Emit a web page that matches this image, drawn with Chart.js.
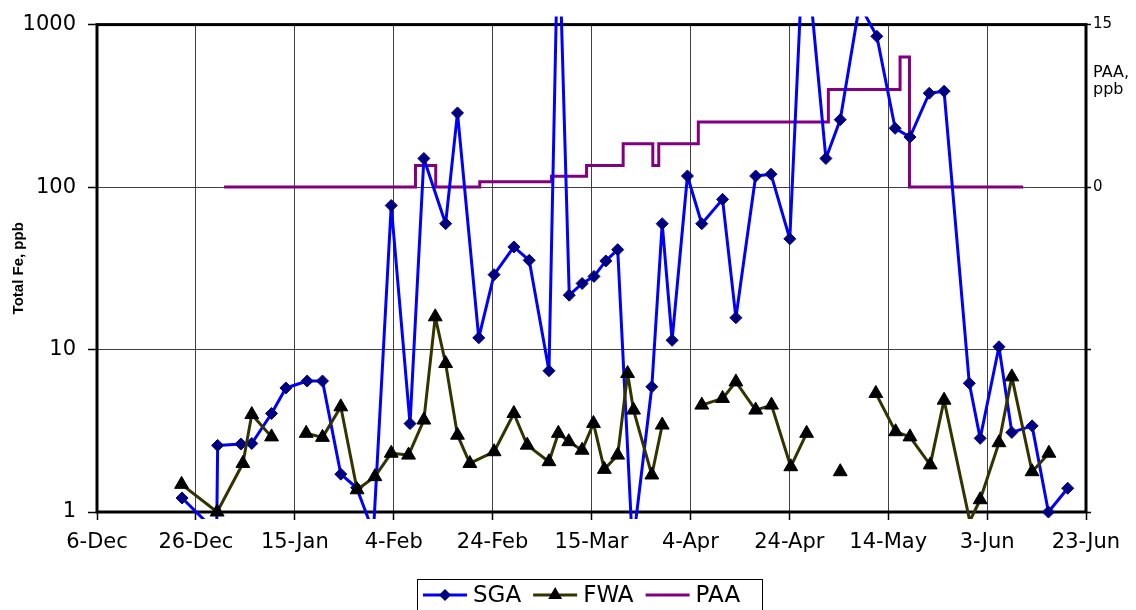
<!DOCTYPE html>
<html><head><meta charset="utf-8">
<script src="https://cdn.jsdelivr.net/npm/chart.js@4/dist/chart.umd.min.js"></script>
<style>html,body{margin:0;padding:0;background:#fff;}#wrap{width:1136px;height:610px;}</style>
</head><body><div id="wrap"><canvas id="c" width="1136" height="610"></canvas></div>
<script>
// x positions are days counted from 6-Dec
const xTickLabels = ['6-Dec','26-Dec','15-Jan','4-Feb','24-Feb','15-Mar','4-Apr','24-Apr','14-May','3-Jun','23-Jun'];

const sgaDays   = [17.2, 24.2, 24.4, 29.1, 31.3, 35.3, 38.2, 42.5, 45.6, 49.3, 52.5, 55.9, 59.5, 63.3, 66.1, 70.5, 72.9, 77.2, 80.3, 84.3, 87.4, 91.4, 93.3, 95.5, 98.1, 100.5, 102.9, 105.3, 108.3, 112.2, 114.3, 116.3, 119.4, 122.3, 126.5, 129.2, 133.2, 136.3, 140.1, 143.0, 147.4, 150.3, 154.2, 157.7, 161.4, 164.4, 168.3, 171.3, 176.4, 178.6, 182.4, 185.0, 189.1, 192.4, 196.3];
const sgaValues = [1.22, 0.75, 2.57, 2.62, 2.64, 4.04, 5.8, 6.4, 6.4, 1.71, 1.41, 0.75, 77, 3.5, 150, 59.5, 286, 11.8, 28.9, 42.8, 35.4, 7.4, 5000, 21.6, 25.5, 28.2, 35.1, 41.2, 0.6, 5.9, 59.5, 11.4, 117, 59.5, 84, 15.7, 117, 120, 48, 4000, 150, 260, 1330, 847, 230, 203, 378, 389, 6.2, 2.84, 10.4, 3.09, 3.39, 1.0, 1.40];

const fwaDays   = [17.1, 24.3, 29.5, 31.3, 35.3, 38.8, 42.3, 45.6, 49.3, 52.6, 56.2, 59.5, 63.0, 66.1, 68.4, 70.5, 72.9, 75.4, 80.3, 84.3, 87.0, 91.4, 93.3, 95.4, 98.1, 100.4, 102.6, 105.3, 107.3, 108.5, 112.2, 114.3, 118.0, 122.3, 126.5, 129.2, 133.2, 136.4, 140.3, 143.5, 147.0, 150.3, 154.0, 157.5, 161.5, 164.4, 168.5, 171.3, 176.5, 178.6, 182.4, 185.0, 189.1, 192.5];
const fwaValues = [1.48, 1.0, 1.99, 3.98, 2.9, null, 3.05, 2.88, 4.44, 1.37, 1.65, 2.3, 2.24, 3.68, 15.9, 8.2, 2.97, 1.99, 2.35, 4.04, 2.58, 2.04, 3.05, 2.71, 2.4, 3.51, 1.83, 2.24, 7.12, 4.24, 1.69, 3.43, null, 4.55, 5.0, 6.32, 4.24, 4.55, 1.9, 3.05, null, 1.77, null, 5.37, 3.12, 2.9, 1.95, 4.88, 0.88, 1.19, 2.67, 6.79, 1.77, 2.3];

const paaDays   = [25.7, 64.4, 68.5, 77.4, 91.9, 99.0, 106.4, 112.4, 113.6, 121.6, 147.9, 162.4, 164.3, 187.3];
const paaValues = [0, 2, 0, 0.5, 1, 2, 4, 2, 4, 6, 9, 12, 0, 0];

const leftTicks  = [1, 10, 100, 1000];
const rightTicks = [-30, -15, 0, 15];

const toXY = (xs, ys) => xs.map((x, i) => ({x: x, y: ys[i]}));
const FONT = 'DejaVu Sans';

const framePlugin = {
  id: 'frame',
  beforeDatasetsDraw(chart) {
    const {ctx, chartArea: a} = chart;
    ctx.save();
    ctx.strokeStyle = '#000';
    ctx.lineWidth = 3;
    ctx.strokeRect(a.left, a.top, a.right - a.left, a.bottom - a.top);
    ctx.restore();
  }
};

const extrasPlugin = {
  id: 'extras',
  afterDraw(chart) {
    const ctx = chart.ctx;
    ctx.save();
    // right axis caption
    ctx.fillStyle = '#000';
    ctx.font = '16px "' + FONT + '"';
    ctx.textAlign = 'left';
    ctx.textBaseline = 'alphabetic';
    ctx.fillText('PAA,', 1093, 77);
    ctx.fillText('ppb', 1093, 94);
    // legend
    ctx.strokeStyle = '#000';
    ctx.lineWidth = 1;
    ctx.strokeRect(417.5, 579.5, 345, 40);
    const cy = 595;
    const items = chart.data.datasets.map(d => d).sort((p, q) => p.legendOrder - q.legendOrder);
    let x = 423;
    ctx.font = '23px "' + FONT + '"';
    ctx.textBaseline = 'middle';
    items.forEach(ds => {
      ctx.strokeStyle = ds.borderColor;
      ctx.lineWidth = 3;
      ctx.beginPath(); ctx.moveTo(x, cy); ctx.lineTo(x + 44, cy); ctx.stroke();
      const mx = x + 22;
      ctx.fillStyle = ds.pointBackgroundColor || ds.borderColor;
      if (ds.pointStyle === 'rectRot') {
        const r = 6;
        ctx.beginPath(); ctx.moveTo(mx, cy - r); ctx.lineTo(mx + r, cy); ctx.lineTo(mx, cy + r); ctx.lineTo(mx - r, cy); ctx.closePath(); ctx.fill();
      } else if (ds.pointStyle === 'triangle') {
        const r = 8;
        ctx.beginPath(); ctx.moveTo(mx, cy - r); ctx.lineTo(mx + r * 0.866, cy + r / 2); ctx.lineTo(mx - r * 0.866, cy + r / 2); ctx.closePath(); ctx.fill();
      }
      ctx.fillStyle = '#000';
      ctx.fillText(ds.label, x + 50, cy + 1);
      x += 50 + ctx.measureText(ds.label).width + 12;
    });
    ctx.restore();
  }
};

new Chart(document.getElementById('c'), {
  type: 'line',
  data: {
    datasets: [
      {
        label: 'FWA', legendOrder: 2,
        data: toXY(fwaDays, fwaValues),
        borderColor: '#333300', borderWidth: 3, borderJoinStyle: 'round',
        pointStyle: 'triangle', pointRadius: 8, pointHoverRadius: 8,
        pointBackgroundColor: '#000000', pointBorderColor: '#000000', pointBorderWidth: 1,
        spanGaps: false, tension: 0, yAxisID: 'y',
        clip: {left: 4, right: 4, top: 8, bottom: 7}
      },
      {
        label: 'SGA', legendOrder: 1,
        data: toXY(sgaDays, sgaValues),
        borderColor: '#0000FF', borderWidth: 3, borderJoinStyle: 'round',
        pointStyle: 'rectRot', pointRadius: 6, pointHoverRadius: 6,
        pointBackgroundColor: '#000080', pointBorderColor: '#000080', pointBorderWidth: 1,
        tension: 0, yAxisID: 'y',
        clip: {left: 4, right: 4, top: 8, bottom: 7}
      },
      {
        label: 'PAA', legendOrder: 3,
        data: toXY(paaDays, paaValues),
        borderColor: '#800080', borderWidth: 3,
        pointRadius: 0, pointHoverRadius: 0,
        stepped: true, tension: 0, yAxisID: 'y2'
      }
    ]
  },
  options: {
    responsive: false, animation: false, devicePixelRatio: 1,
    layout: {padding: {top: 24, left: 0, right: 0, bottom: 0}},
    plugins: {legend: {display: false}, tooltip: {enabled: false}},
    scales: {
      x: {
        type: 'linear', min: 0, max: 200,
        border: {display: false},
        grid: {color: '#404040', lineWidth: 1, tickLength: 8, tickColor: '#000', tickWidth: 1.5},
        ticks: {
          stepSize: 20, maxRotation: 0, autoSkip: false, padding: 10, color: '#000',
          font: {family: FONT, size: 21},
          callback: v => xTickLabels[Math.round(v / 20)]
        },
        afterFit: s => { s.height = 98; }
      },
      y: {
        type: 'logarithmic', position: 'left', min: 1, max: 1000,
        border: {display: false},
        grid: {color: '#404040', lineWidth: 1, tickLength: 9, tickColor: '#000', tickWidth: 1.5},
        afterBuildTicks: s => { s.ticks = leftTicks.map(v => ({value: v})); },
        ticks: {
          padding: 12, color: '#000', font: {family: FONT, size: 21},
          callback: v => String(v)
        },
        title: {display: true, text: 'Total Fe, ppb', color: '#000',
                font: {family: 'Liberation Sans', size: 15, weight: 'bold'}, padding: {top: 10, bottom: 0}},
        afterFit: s => { s.width = 97; }
      },
      y2: {
        type: 'linear', position: 'right', min: -30, max: 15,
        border: {display: false},
        grid: {drawOnChartArea: false, tickLength: 5, tickColor: '#000', tickWidth: 1.5},
        afterBuildTicks: s => { s.ticks = rightTicks.map(v => ({value: v})); },
        ticks: {
          padding: 2, color: '#000', font: {family: FONT, size: 15},
          callback: v => (v >= 0 ? String(v) : '')
        },
        afterFit: s => { s.width = 50; }
      }
    }
  },
  plugins: [framePlugin, extrasPlugin]
});
</script>
</body></html>
